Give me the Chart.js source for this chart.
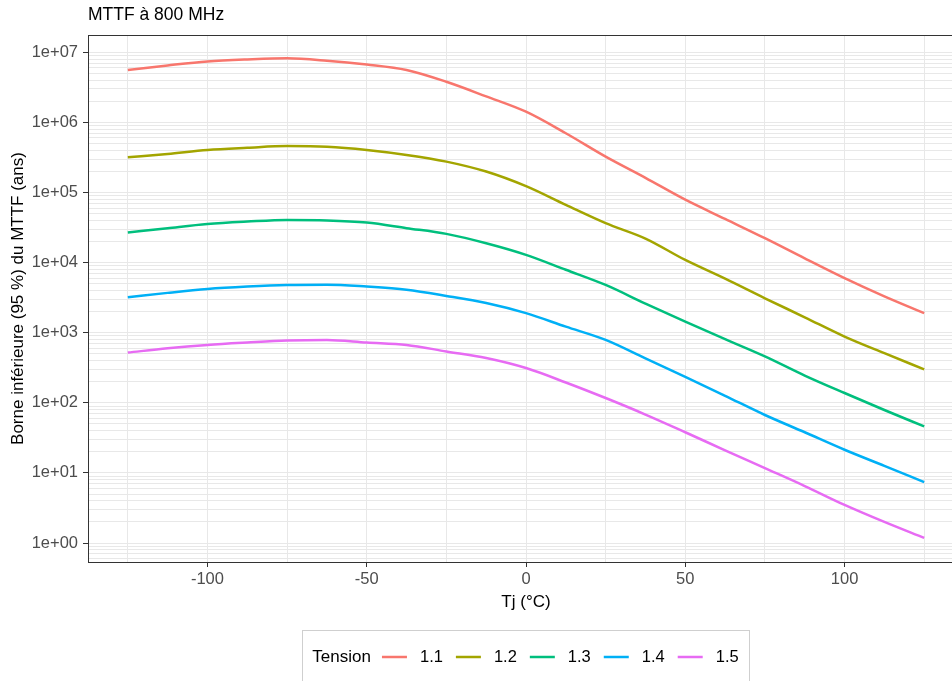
<!DOCTYPE html>
<html>
<head>
<meta charset="utf-8">
<script src="https://cdn.jsdelivr.net/npm/chart.js@4"></script>
<style>
  html, body { margin: 0; padding: 0; background: #fff; overflow: hidden; }
  canvas { display: block; }
</style>
</head>
<body>
<canvas id="mttfChart" width="980" height="681"></canvas>
<script>
// Tj (°C)
const tj = [-125, -112.5, -100, -87.5, -75, -62.5, -50, -37.5, -25, -12.5, 0, 12.5, 25, 37.5, 50, 62.5, 75, 87.5, 100, 112.5, 125];

// lower bound (95%) of MTTF in years, one array per voltage
const v11 = [5.6e6, 6.5e6, 7.4e6, 7.9e6, 8.2e6, 7.6e6, 6.7e6, 5.6e6, 3.8e6, 2.35e6, 1.42e6, 7.0e5, 3.25e5, 1.62e5, 7.9e4, 4.2e4, 2.23e4, 1.15e4, 6.0e3, 3.3e3, 1.9e3];
const v12 = [3.18e5, 3.55e5, 4.05e5, 4.35e5, 4.6e5, 4.5e5, 4.05e5, 3.44e5, 2.76e5, 1.99e5, 1.23e5, 6.65e4, 3.65e4, 2.2e4, 1.09e4, 5.9e3, 3.1e3, 1.66e3, 8.8e2, 5.1e2, 3.0e2];
const v13 = [2.68e4, 3.1e4, 3.56e4, 3.85e4, 4.06e4, 4.0e4, 3.72e4, 3.1e4, 2.57e4, 1.89e4, 1.29e4, 7.9e3, 4.8e3, 2.6e3, 1.44e3, 8.1e2, 4.6e2, 2.45e2, 1.38e2, 7.9e1, 4.6e1];
const v14 = [3.2e3, 3.7e3, 4.2e3, 4.55e3, 4.8e3, 4.85e3, 4.55e3, 4.1e3, 3.35e3, 2.65e3, 1.9e3, 1.22e3, 7.9e2, 4.3e2, 2.35e2, 1.26e2, 6.7e1, 3.8e1, 2.14e1, 1.26e1, 7.4];
const v15 = [5.2e2, 6.0e2, 6.7e2, 7.25e2, 7.75e2, 7.9e2, 7.25e2, 6.7e2, 5.4e2, 4.35e2, 3.13e2, 1.95e2, 1.17e2, 6.8e1, 3.8e1, 2.1e1, 1.17e1, 6.5, 3.5, 2.0, 1.18];

const tensions = ['1.1', '1.2', '1.3', '1.4', '1.5'];
const colors = ['#F8766D', '#A3A500', '#00BF7D', '#00B0F6', '#E76BF3'];

// axis ticks
const xTicks = [-125, -100, -75, -50, -25, 0, 25, 50, 75, 100, 125];
const xLabeled = [-100, -50, 0, 50, 100];
const yMajor = [1, 10, 100, 1e3, 1e4, 1e5, 1e6, 1e7];
const yLabels = ['1e+00', '1e+01', '1e+02', '1e+03', '1e+04', '1e+05', '1e+06', '1e+07'];

const yMin = Math.pow(10, -0.271);
const yMax = Math.pow(10, 7.247);

// minor breaks 2..9 x 10^n, plus the ones just below 1
const yGrid = [];
[0.1].concat(yMajor).forEach(function (m) {
  for (let k = 1; k <= 9; k++) {
    const v = m * k;
    if (v >= yMin && v <= yMax) yGrid.push(v);
  }
});

function majorIndex(v) {
  return yMajor.findIndex(m => Math.abs(v - m) / m < 1e-9);
}

const FONT = '"Liberation Sans", Arial, sans-serif';
Chart.defaults.font.family = FONT;

const series = [v11, v12, v13, v14, v15];

const panelBorder = {
  id: 'panelBorder',
  afterDatasetsDraw(chart) {
    const a = chart.chartArea;
    const ctx = chart.ctx;
    ctx.save();
    ctx.strokeStyle = '#333333';
    ctx.lineWidth = 1;
    ctx.strokeRect(Math.round(a.left) + 0.5, Math.round(a.top) + 0.5, Math.round(a.right - a.left), Math.round(a.bottom - a.top));
    ctx.restore();
  }
};

// ggplot style legend box under the panel
const ggLegend = {
  id: 'ggLegend',
  afterDraw(chart) {
    const a = chart.chartArea;
    const ctx = chart.ctx;
    const cy = 657;
    ctx.save();
    ctx.font = '17px ' + FONT;
    const titleW = ctx.measureText('Tension').width;
    ctx.font = '16.5px ' + FONT;
    const items = chart.data.datasets.map(d => ({ label: d.label, color: d.borderColor, w: ctx.measureText(d.label).width }));
    let total = 10 + titleW + 11;
    items.forEach((it, i) => { total += 25 + 13 + it.w + (i < items.length - 1 ? 13 : 0); });
    total += 11;
    const left = (a.left + a.right) / 2 - total / 2;

    ctx.strokeStyle = '#cfcfcf';
    ctx.lineWidth = 1;
    ctx.strokeRect(Math.round(left) + 0.5, 630.5, Math.round(total), 80);

    ctx.fillStyle = '#000';
    ctx.textBaseline = 'middle';
    ctx.font = '17px ' + FONT;
    let x = left + 10;
    ctx.fillText('Tension', x, cy);
    x += titleW + 11;
    ctx.font = '16.5px ' + FONT;
    items.forEach(it => {
      ctx.strokeStyle = it.color;
      ctx.lineWidth = 2.5;
      ctx.beginPath();
      ctx.moveTo(x, cy);
      ctx.lineTo(x + 25, cy);
      ctx.stroke();
      x += 25 + 13;
      ctx.fillStyle = '#000';
      ctx.fillText(it.label, x, cy);
      x += it.w + 13;
    });
    ctx.restore();
  }
};

new Chart(document.getElementById('mttfChart').getContext('2d'), {
  type: 'line',
  data: {
    datasets: tensions.map((t, i) => ({
      label: t,
      data: tj.map((x, j) => ({ x: x, y: series[i][j] })),
      borderColor: colors[i],
      backgroundColor: colors[i],
      borderWidth: 2.5,
      pointRadius: 0,
      cubicInterpolationMode: 'monotone',
      fill: false
    }))
  },
  options: {
    responsive: false,
    animation: false,
    layout: { padding: { left: 0, right: 16, top: 0, bottom: 68 } },
    plugins: {
      legend: { display: false },
      tooltip: { enabled: false },
      title: {
        display: true,
        text: 'MTTF à 800 MHz',
        align: 'start',
        fullSize: false,
        color: '#000',
        font: { size: 17.5, weight: 'normal' },
        padding: { top: 5, bottom: 9 }
      }
    },
    scales: {
      x: {
        type: 'linear',
        min: -137.5,
        max: 137.5,
        afterBuildTicks: s => { s.ticks = xTicks.map(v => ({ value: v })); },
        afterFit: s => { s.height = 51; },
        ticks: {
          autoSkip: false,
          maxRotation: 0,
          padding: 3,
          color: '#4d4d4d',
          font: { size: 16.5 },
          callback: v => xLabeled.includes(v) ? String(v) : ''
        },
        grid: {
          color: '#e8e8e8',
          lineWidth: 1,
          tickLength: 5,
          tickColor: ctx => (ctx.tick && xLabeled.includes(ctx.tick.value)) ? '#333333' : 'rgba(0,0,0,0)'
        },
        border: { display: false },
        title: {
          display: true,
          text: 'Tj (°C)',
          color: '#000',
          font: { size: 17 },
          padding: { top: 0, bottom: 0 }
        }
      },
      y: {
        type: 'logarithmic',
        min: yMin,
        max: yMax,
        afterBuildTicks: s => { s.ticks = yGrid.map(v => ({ value: v })); },
        afterFit: s => { s.width = 88; },
        ticks: {
          autoSkip: false,
          padding: 5,
          color: '#4d4d4d',
          font: { size: 16.5 },
          callback: v => { const k = majorIndex(v); return k >= 0 ? yLabels[k] : ''; }
        },
        grid: {
          color: '#e8e8e8',
          lineWidth: 1,
          tickLength: 5,
          tickColor: ctx => (ctx.tick && majorIndex(ctx.tick.value) >= 0) ? '#333333' : 'rgba(0,0,0,0)'
        },
        border: { display: false },
        title: {
          display: true,
          text: 'Borne inférieure (95 %) du MTTF (ans)',
          color: '#000',
          font: { size: 17 },
          padding: { top: 8, bottom: 0 }
        }
      }
    }
  },
  plugins: [panelBorder, ggLegend]
});
</script>
</body>
</html>
